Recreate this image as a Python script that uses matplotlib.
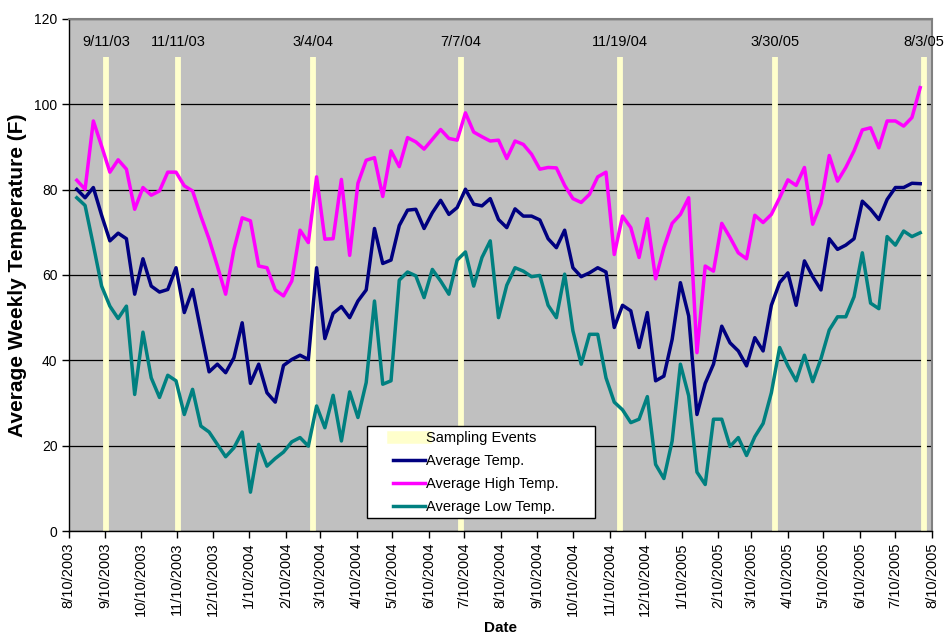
import matplotlib
matplotlib.use("Agg")
import matplotlib.pyplot as plt
from matplotlib.lines import Line2D
from matplotlib.patches import Rectangle
import pandas as pd

plt.rcParams['font.family'] = ['Liberation Sans', 'DejaVu Sans']

# Weekly temperature series (deg F), one value per week starting 8/17/2003
week_start = "2003-08-17"
avg_high = [82.2, 80.1, 96.1, 90.2, 84.1, 87.0, 84.8, 75.4, 80.5, 78.7, 79.7, 84.1, 84.1, 80.9,
            79.7, 73.8, 68.4, 62.1, 55.5, 66.0, 73.4, 72.7, 62.1, 61.7, 56.5, 55.1, 58.6, 70.5, 67.6,
            83.0, 68.4, 68.5, 82.4, 64.6, 81.5, 86.9, 87.5, 78.4, 89.1, 85.4, 92.2, 91.2, 89.5, 91.8,
            94.1, 92.0, 91.6, 98.0, 93.5, 92.4, 91.4, 91.6, 87.3, 91.4, 90.6, 88.3, 84.8, 85.2, 85.1,
            81.0, 77.9, 77.0, 78.9, 83.0, 84.1, 64.8, 73.8, 71.1, 64.1, 73.2, 59.1, 66.4, 72.1, 74.2,
            78.1, 41.8, 62.1, 60.9, 72.1, 68.8, 65.2, 63.8, 74.0, 72.3, 74.2, 78.1, 82.3, 81.0, 85.2,
            71.9, 76.8, 88.0, 82.0, 85.2, 89.1, 94.0, 94.5, 89.8, 96.1, 96.1, 94.9, 96.9, 103.9]
avg_temp = [80.1, 78.1, 80.5, 74.0, 68.0, 69.8, 68.5, 55.5, 63.8, 57.4, 56.0, 56.6, 61.7, 51.2,
            56.6, 46.9, 37.3, 39.1, 37.1, 40.6, 48.8, 34.6, 39.1, 32.4, 30.2, 38.8, 40.2, 41.2, 40.2,
            61.7, 45.1, 51.0, 52.6, 50.0, 53.9, 56.5, 70.9, 62.7, 63.5, 71.6, 75.2, 75.4, 70.9, 74.6,
            77.5, 74.2, 75.8, 80.1, 76.6, 76.2, 77.9, 73.0, 71.1, 75.5, 73.8, 73.8, 72.9, 68.5, 66.4,
            70.5, 61.7, 59.6, 60.5, 61.7, 60.7, 47.7, 52.9, 51.6, 43.0, 51.2, 35.2, 36.3, 44.9, 58.2,
            50.4, 27.3, 34.6, 39.1, 48.0, 44.1, 42.2, 38.7, 45.3, 42.2, 52.9, 58.2, 60.5, 52.9, 63.3,
            59.6, 56.5, 68.5, 66.0, 67.0, 68.5, 77.3, 75.4, 73.0, 77.7, 80.5, 80.5, 81.5, 81.4]
avg_low = [78.1, 76.3, 67.0, 57.4, 52.7, 49.8, 52.7, 32.0, 46.6, 35.9, 31.3, 36.5, 35.2, 27.3,
           33.2, 24.6, 23.2, 20.3, 17.4, 19.5, 23.2, 9.1, 20.3, 15.2, 17.0, 18.5, 20.9, 21.9, 19.9,
           29.3, 24.2, 31.8, 21.1, 32.6, 26.6, 34.8, 53.9, 34.4, 35.2, 58.8, 60.7, 59.8, 54.7, 61.3,
           58.6, 55.5, 63.5, 65.4, 57.4, 64.1, 68.0, 50.0, 57.6, 61.7, 60.9, 59.6, 59.9, 52.9, 50.0,
           60.2, 46.9, 39.1, 46.1, 46.1, 35.9, 30.2, 28.4, 25.4, 26.2, 31.5, 15.6, 12.3, 21.1, 39.1,
           31.7, 13.8, 10.9, 26.2, 26.2, 19.8, 21.9, 17.7, 22.1, 25.2, 32.4, 43.0, 38.7, 35.2, 41.2,
           35.0, 40.4, 47.1, 50.2, 50.2, 54.9, 65.2, 53.4, 52.1, 69.0, 67.0, 70.3, 69.0, 69.9]

# Sampling events
sampling_dates = ["2003-09-11", "2003-11-11", "2004-03-04", "2004-07-07",
                  "2004-11-19", "2005-03-30", "2005-08-03"]
sampling_labels = ["9/11/03", "11/11/03", "3/4/04", "7/7/04", "11/19/04", "3/30/05", "8/3/05"]
event_top = 111
label_level = 114.6

weeks = pd.date_range(week_start, periods=len(avg_temp), freq="7D")
events = pd.to_datetime(sampling_dates)
tick_dates = pd.date_range("2003-08-10", "2005-08-10", freq=pd.DateOffset(months=1))
tick_labels = [f"{d.month}/{d.day}/{d.year}" for d in tick_dates]

C_AVG = "#000080"
C_HIGH = "#FF00FF"
C_LOW = "#008080"
C_EVENT = "#FFFFCC"

fig = plt.figure(figsize=(9.44, 6.37), dpi=100)
ax = fig.add_axes([0.0726, 0.1664, 0.9147, 0.8038])
ax.set_facecolor("#C0C0C0")

ax.set_ylim(0, 120)
ax.set_yticks(range(0, 121, 20))
ax.yaxis.grid(True, color="black", linewidth=0.9, zorder=0.5)
ax.set_axisbelow(True)

ax.vlines(events, 0, event_top, color=C_EVENT, linewidth=4.2, zorder=1)
for d, lab in zip(events, sampling_labels):
    ax.text(d, label_level, lab, ha="center", va="center", fontsize=10.5, zorder=4)

ax.plot(weeks, avg_high, color=C_HIGH, linewidth=2.5, zorder=3)
ax.plot(weeks, avg_temp, color=C_AVG, linewidth=2.5, zorder=3)
ax.plot(weeks, avg_low, color=C_LOW, linewidth=2.5, zorder=3)

ax.set_xlim(tick_dates[0], tick_dates[-1])
ax.set_xticks(tick_dates)
ax.set_xticklabels(tick_labels, rotation=90, fontsize=10.5)
ax.tick_params(axis="x", direction="out", length=5, width=1, pad=3)
ax.tick_params(axis="y", direction="out", length=5, width=1, labelsize=10, pad=3)

for side in ("left", "bottom"):
    ax.spines[side].set_color("black")
    ax.spines[side].set_linewidth(1.0)
for side in ("top", "right"):
    ax.spines[side].set_color("#808080")
    ax.spines[side].set_linewidth(1.5)

ax.set_ylabel("Average Weekly Temperature (F)", fontsize=15, fontweight="bold")
ax.yaxis.set_label_coords(-0.048, 0.5)
ax.set_xlabel("Date", fontsize=11, fontweight="bold")
ax.xaxis.set_label_coords(0.5, -0.176)

# Legend: white box with black border, entries inset from the left edge
ax.add_patch(Rectangle((0.3457, 0.0254), 0.2640, 0.1797, transform=ax.transAxes,
                       facecolor="white", edgecolor="black", linewidth=1.0, zorder=5))
handles = [
    Line2D([], [], color=C_EVENT, linewidth=9),
    Line2D([], [], color=C_AVG, linewidth=2.5),
    Line2D([], [], color=C_HIGH, linewidth=2.5),
    Line2D([], [], color=C_LOW, linewidth=2.5),
]
labels = ["Sampling Events", "Average Temp.", "Average High Temp.", "Average Low Temp."]
leg = ax.legend(handles, labels, loc="upper left", bbox_to_anchor=(0.3755, 0.1953),
                fontsize=10.5, frameon=False, handlelength=2.2, handletextpad=0.1,
                borderpad=0, labelspacing=0.62, borderaxespad=0)
leg.set_zorder(6)

fig.savefig("out.png", dpi=100)
